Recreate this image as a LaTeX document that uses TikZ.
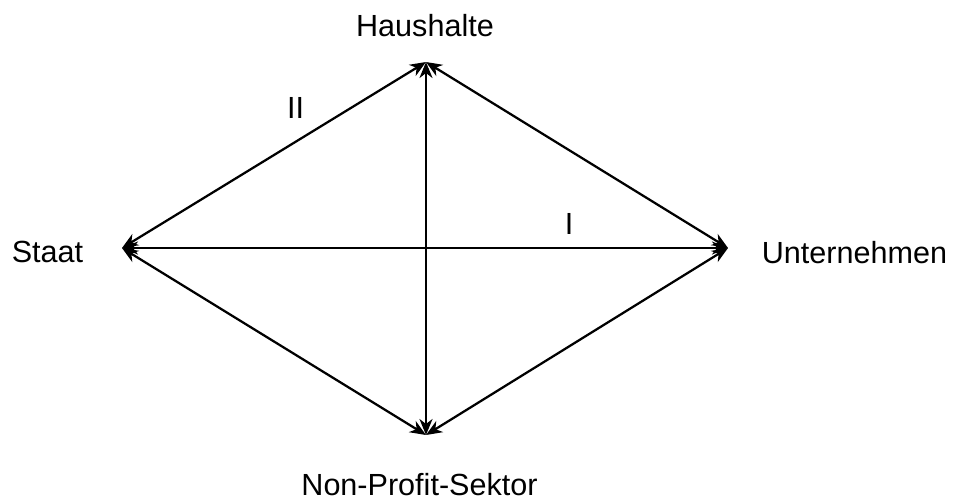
\documentclass[tikz,border=0pt]{standalone}
\usepackage{fontspec}
\setmainfont{Liberation Sans}
\usepackage{tikz}
\usetikzlibrary{positioning, arrows.meta}

\begin{document}
\begin{tikzpicture}[
			x=0.02cm, y=-0.02cm,
			label/.style={font=\fontsize{17.4}{21}\selectfont, inner sep=0pt, anchor=base},
			arrow/.style={{Stealth[length=0.32cm, width=0.26cm, inset=0.1cm]}-{Stealth[length=0.32cm, width=0.26cm, inset=0.1cm]}, line width=0.045cm}
			]
			\useasboundingbox (0,0) rectangle (954,498);
			% Corner points
			\coordinate (haus) at (426,62);
			\coordinate (staat) at (122,248);
			\coordinate (unter) at (728,248);
			\coordinate (npo) at (426,435);
			
			% Sector labels
			\node (haustext) [label] at (425,36) {Haushalte};
			\node (staattext) [label] at (47.5,262) {Staat};
			\node (untertext) [label] at (854.5,263) {Unternehmen};
			\node (npotext) [label] at (419.5,495) {Non-Profit-Sektor};
			\node (zwei) [label] at (295.5,118) {II};
			\node (eins) [label] at (569,234) {I};
			
			% Arrows
			\draw [arrow] (staat) -- (haus);
			\draw [arrow] (haus) -- (unter);
			\draw [arrow] (staat) -- (npo);
			\draw [arrow] (npo) -- (unter);
			\draw [arrow] (staat) -- (unter);
			\draw [arrow] (haus) -- (npo);
		\end{tikzpicture}
\end{document}
